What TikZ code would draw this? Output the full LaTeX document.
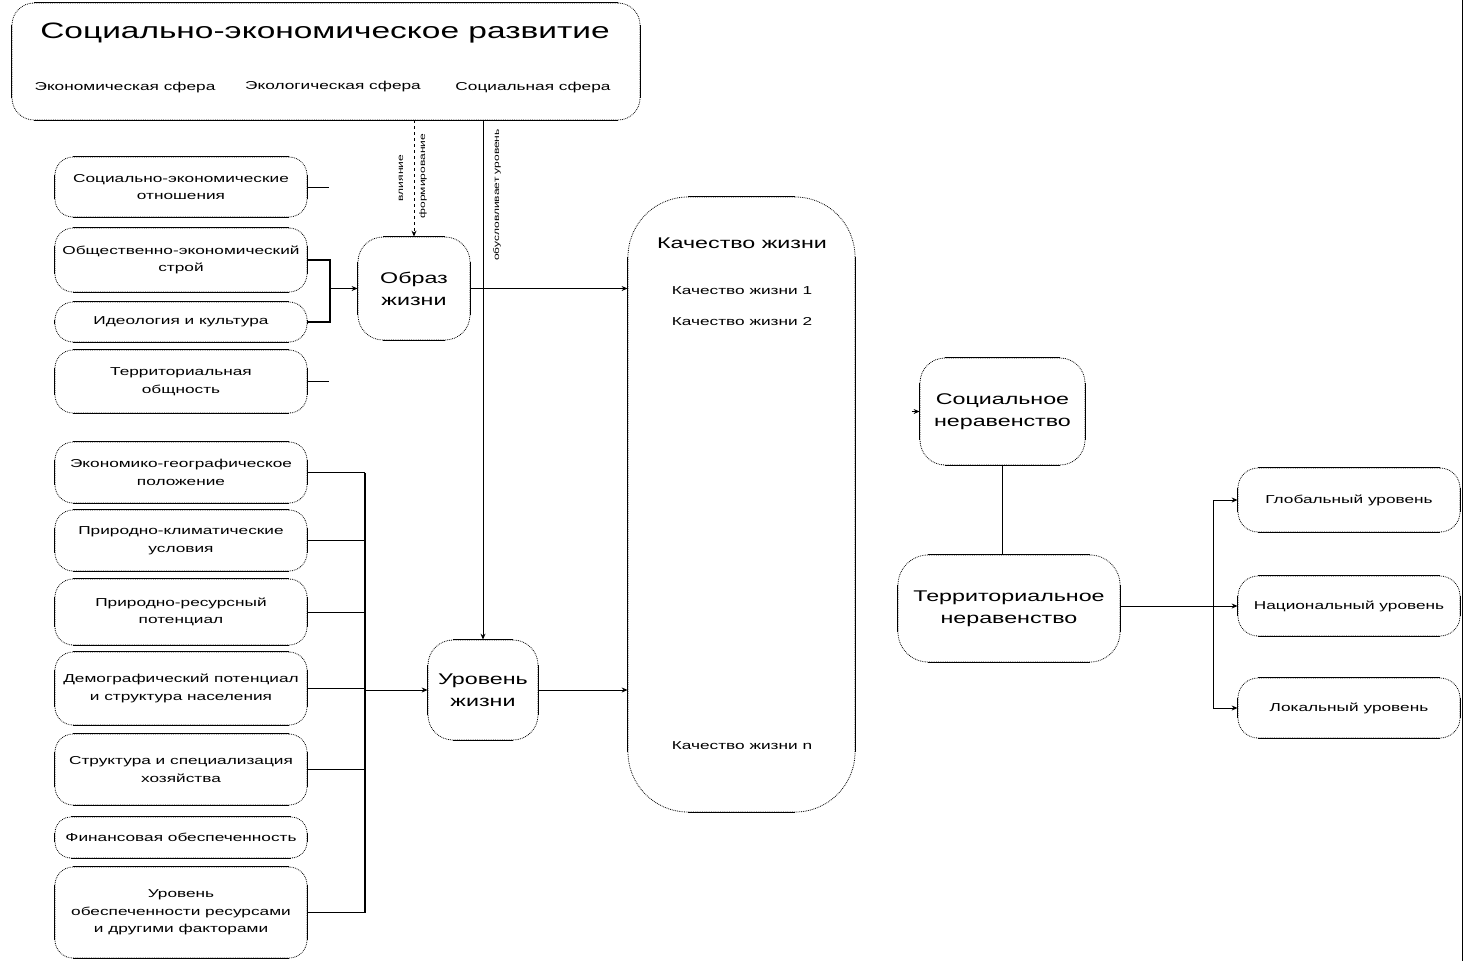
\documentclass[tikz,border=0pt]{standalone}
\usepackage{fontspec}
\setmainfont{Liberation Sans}[FakeStretch=1.5]
\usetikzlibrary{arrows.meta,calc}
\tikzset{
  rbox/.style={draw, densely dotted, line width=0.8pt, rounded corners=#1, inner sep=0pt, align=center, font=\fontsize{11.5}{17.5}\selectfont},
  rbox/.default=18pt,
  edgeline/.style={line width=1.5pt, solid},
  sideline/.style={line width=1pt, solid},
  conn/.style={line width=0.9pt},
  thickconn/.style={line width=1.6pt},
  arr/.style={conn, -{Stealth[length=6pt,width=5pt]}},
  midtxt/.style={font=\fontsize{15.5}{22}\selectfont, align=center, inner sep=0pt},
  smalltxt/.style={font=\fontsize{11.5}{15}\selectfont, inner sep=0pt},
  tinytxt/.style={font=\fontsize{8}{9}\selectfont, inner sep=0pt, rotate=90},
}
\newcommand\bx[7][18]{%
  \node[rbox=#1pt, minimum width={(#5-#3)*1pt}, minimum height={(#6-#4)*1pt}] (#2) at ({(#3+#5)/2},{(#4+#6)/2}) {#7};
  \draw[edgeline] ([xshift=#1pt]#2.north west) -- ([xshift=-#1pt]#2.north east);
  \draw[edgeline] ([xshift=#1pt]#2.south west) -- ([xshift=-#1pt]#2.south east);
  \draw[sideline] ([yshift=-#1pt]#2.north west) -- ([yshift=#1pt]#2.south west);
  \draw[sideline] ([yshift=-#1pt]#2.north east) -- ([yshift=#1pt]#2.south east);
}
\begin{document}
\begin{tikzpicture}[x=1pt,y=-1pt]
\useasboundingbox (0,0) rectangle (1467,961);
% top box
\bx[22]{top}{12}{3}{640}{120}{}
\node[font=\fontsize{22.3}{27}\selectfont, inner sep=0pt] (title) at (325,33) {Социально-экономическое развитие};
\node[smalltxt] (s1) at (125,88) {Экономическая сфера};
\node[smalltxt] (s2) at (333,87) {Экологическая сфера};
\node[smalltxt] (s3) at (533,88) {Социальная сфера};
% left factors
\bx{f1}{55}{157}{307}{217}{Социально-экономические\\отношения}
\bx{f2}{55}{228}{307}{292}{Общественно-экономический\\строй}
\bx{f3}{55}{302}{307}{342}{Идеология и культура}
\bx{f4}{55}{350}{307}{413}{Территориальная\\общность}
\bx{f5}{55}{442}{307}{503}{Экономико-географическое\\положение}
\bx{f6}{55}{510}{307}{571}{Природно-климатические\\условия}
\bx{f7}{55}{579}{307}{645}{Природно-ресурсный\\потенциал}
\bx{f8}{55}{652}{307}{725}{Демографический потенциал\\и структура населения}
\bx{f9}{55}{734}{307}{805}{Структура и специализация\\хозяйства}
\bx[16]{f10}{55}{817}{307}{858}{Финансовая обеспеченность}
\bx{f11}{55}{867}{307}{958}{Уровень\\обеспеченности ресурсами\\и другими факторами}
% middle
\bx[25]{obraz}{358}{237}{470}{340}{}
\node[midtxt] (obrazt) at (obraz) {Образ\\жизни};
\bx[25]{uroven}{428}{640}{538}{740}{}
\node[midtxt] (urovent) at (uroven) {Уровень\\жизни};
% quality of life
\bx[60]{kach}{628}{197}{855}{812}{}
\node[midtxt] (k0) at (742,243) {Качество жизни};
\node[smalltxt] (k1) at (742,291) {Качество жизни 1};
\node[smalltxt] (k2) at (742,322) {Качество жизни 2};
\node[smalltxt] (kn) at (742,746) {Качество жизни n};
% inequality
\bx[25]{soc}{920}{358}{1085}{465}{}
\node[midtxt] (soct) at (soc) {Социальное\\неравенство};
\bx[30]{ter}{898}{555}{1120}{662}{}
\node[midtxt] (tert) at (ter) {Территориальное\\неравенство};
% levels
\bx[20]{r1}{1238}{468}{1460}{532}{}
\node[smalltxt] (r1t) at (r1) {Глобальный уровень};
\bx[20]{r2}{1238}{576}{1460}{636}{}
\node[smalltxt] (r2t) at (r2) {Национальный уровень};
\bx[20]{r3}{1238}{678}{1460}{738}{}
\node[smalltxt] (r3t) at (r3) {Локальный уровень};
% connectors: top box to middle
\draw[arr, dashed] (obraz.north |- top.south) -- (obraz.north);
\node[tinytxt] (v1) at (401,178) {влияние};
\node[tinytxt] (v2) at (423,176) {формирование};
\draw[arr] (uroven.north |- top.south) -- (uroven.north);
\node[tinytxt] (v3) at (497,195) {обусловливает уровень};
% obraz / uroven to kach
\draw[arr] (obraz.east) -- (obraz.east -| kach.west);
\draw[arr] (uroven.east) -- (uroven.east -| kach.west);
% upper bracket
\coordinate (bj) at (330,288.5);
\draw[thickconn] (f2.east) -| (bj |- f3.east) -- (f3.east);
\draw[arr] (bj) -- (obraz.west);
\draw[conn] (f1.east) -- ++(22,0);
\draw[conn] (f4.east) -- ++(22,0);
% lower bracket
\coordinate (bk) at (365,690);
\draw[thickconn] (bk |- f5.east) -- (bk |- f11.east);
\foreach \f in {f5,f6,f7,f8,f9,f11}{\draw[conn] (\f.east) -- (bk |- \f.east);}
\draw[arr] (bk) -- (uroven.west);
% inequality
\draw[arr] ([xshift=-8pt]soc.west) -- (soc.west);
\draw[conn] (soc.south) -- (soc.south |- ter.north);
\draw[arr] (ter.east |- r2.west) -- (r2.west);
\coordinate (rv) at (1213,0);
\draw[conn] (rv |- r1.west) -- (rv |- r3.west);
\draw[arr] (rv |- r1.west) -- (r1.west);
\draw[arr] (rv |- r3.west) -- (r3.west);
% right page edge
\draw[conn] (1462,0) -- (1462,961);
\end{tikzpicture}
\end{document}
